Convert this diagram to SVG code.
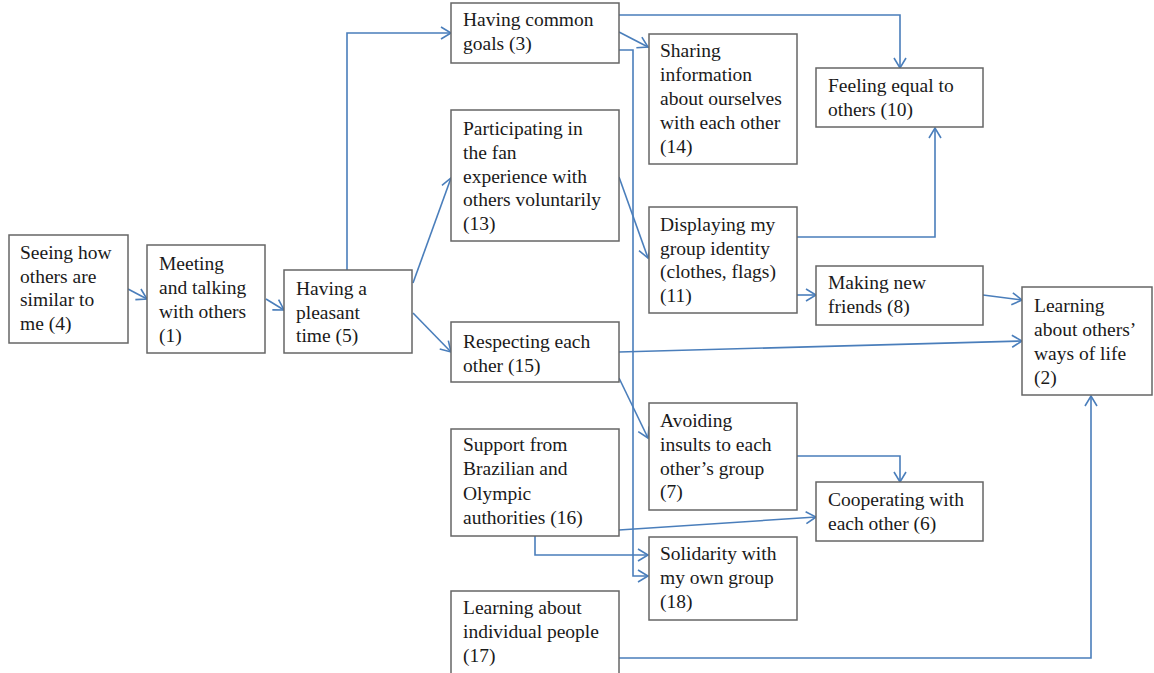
<svg xmlns="http://www.w3.org/2000/svg" width="1154" height="673" viewBox="0 0 1154 673">
  <style>
    .box rect { fill: #ffffff; stroke: #666666; stroke-width: 1.5; }
    .box text { font-family: "Liberation Serif", "Times New Roman", serif; font-size: 19.5px; fill: #1a1a1a; }
    #connectors path { fill: none; stroke: #4a7ebb; stroke-width: 1.6; marker-end: url(#arrow); }
  </style>
  <defs>
    <marker id="arrow" markerUnits="userSpaceOnUse" markerWidth="14" markerHeight="14" refX="11" refY="6" orient="auto" overflow="visible">
      <path d="M1,0 L11,6 L1,12" fill="none" stroke="#4a7ebb" stroke-width="1.6"/>
    </marker>
  </defs>
  <rect width="1154" height="673" fill="#ffffff"/>

  <!-- connectors -->
  <g id="connectors">
    <path d="M128,289 L147,299"/>
    <path d="M266,299 L284,310"/>
    <path d="M347,270 L347,33 L451,33"/>
    <path d="M413,283 L451,178"/>
    <path d="M413,313 L451,352"/>
    <path d="M619,15 L900,15 L900,68"/>
    <path d="M619,32 L648,47"/>
    <path d="M619,50 L633,50 L633,576 L648,576"/>
    <path d="M619,177 L648,258"/>
    <path d="M797,237 L935,237 L935,128"/>
    <path d="M797,295 L816,295"/>
    <path d="M983,295 L1022,300"/>
    <path d="M619,352 L1022,341"/>
    <path d="M619,378 L648,438"/>
    <path d="M797,456 L900,456 L900,482"/>
    <path d="M619,530 L816,517"/>
    <path d="M535,536 L535,555 L648,555"/>
    <path d="M619,658 L1091,658 L1091,396"/>
  </g>

  <!-- nodes -->
  <g id="n4" class="box">
    <rect x="9" y="235" width="119" height="108"/>
    <text x="20" y="259">Seeing how</text>
    <text x="20" y="283">others are</text>
    <text x="20" y="306">similar  to</text>
    <text x="20" y="330">me (4)</text>
  </g>
  <g id="n1" class="box">
    <rect x="147" y="245" width="118" height="108"/>
    <text x="159" y="270">Meeting</text>
    <text x="159" y="294">and talking</text>
    <text x="159" y="318">with others</text>
    <text x="159" y="342">(1)</text>
  </g>
  <g id="n5" class="box">
    <rect x="284" y="270" width="128" height="83"/>
    <text x="296" y="295">Having a</text>
    <text x="296" y="319">pleasant</text>
    <text x="296" y="342">time (5)</text>
  </g>
  <g id="n3" class="box">
    <rect x="451" y="3" width="168" height="60"/>
    <text x="463" y="26">Having common</text>
    <text x="463" y="50">goals (3)</text>
  </g>
  <g id="n13" class="box">
    <rect x="451" y="110" width="168" height="131"/>
    <text x="463" y="135">Participating  in</text>
    <text x="463" y="159">the fan</text>
    <text x="463" y="183">experience with</text>
    <text x="463" y="206">others voluntarily</text>
    <text x="463" y="230">(13)</text>
  </g>
  <g id="n15" class="box">
    <rect x="451" y="322" width="168" height="60"/>
    <text x="463" y="348">Respecting each</text>
    <text x="463" y="372">other (15)</text>
  </g>
  <g id="n16" class="box">
    <rect x="451" y="429" width="168" height="107"/>
    <text x="463" y="451">Support from</text>
    <text x="463" y="475">Brazilian  and</text>
    <text x="463" y="500">Olympic</text>
    <text x="463" y="524">authorities (16)</text>
  </g>
  <g id="n17" class="box">
    <rect x="451" y="591" width="168" height="90"/>
    <text x="463" y="614">Learning about</text>
    <text x="463" y="638">individual  people</text>
    <text x="463" y="662">(17)</text>
  </g>
  <g id="n14" class="box">
    <rect x="649" y="34" width="148" height="130"/>
    <text x="660" y="57">Sharing</text>
    <text x="660" y="81">information</text>
    <text x="660" y="105">about ourselves</text>
    <text x="660" y="129">with each other</text>
    <text x="660" y="153">(14)</text>
  </g>
  <g id="n11" class="box">
    <rect x="649" y="207" width="148" height="106"/>
    <text x="660" y="231">Displaying my</text>
    <text x="660" y="255">group identity</text>
    <text x="660" y="278">(clothes, flags)</text>
    <text x="660" y="302">(11)</text>
  </g>
  <g id="n7" class="box">
    <rect x="649" y="403" width="148" height="107"/>
    <text x="660" y="427">Avoiding</text>
    <text x="660" y="451">insults to each</text>
    <text x="660" y="475">other’s group</text>
    <text x="660" y="498">(7)</text>
  </g>
  <g id="n18" class="box">
    <rect x="649" y="537" width="148" height="83"/>
    <text x="660" y="560">Solidarity  with</text>
    <text x="660" y="584">my own group</text>
    <text x="660" y="608">(18)</text>
  </g>
  <g id="n10" class="box">
    <rect x="816" y="68" width="167" height="59"/>
    <text x="828" y="92">Feeling  equal to</text>
    <text x="828" y="116">others (10)</text>
  </g>
  <g id="n8" class="box">
    <rect x="816" y="266" width="167" height="59"/>
    <text x="828" y="289">Making  new</text>
    <text x="828" y="313">friends (8)</text>
  </g>
  <g id="n6" class="box">
    <rect x="816" y="482" width="167" height="59"/>
    <text x="828" y="506">Cooperating with</text>
    <text x="828" y="530">each other (6)</text>
  </g>
  <g id="n2" class="box">
    <rect x="1022" y="287" width="130" height="108"/>
    <text x="1034" y="312">Learning</text>
    <text x="1034" y="336">about others’</text>
    <text x="1034" y="360">ways of life</text>
    <text x="1034" y="384">(2)</text>
  </g>
</svg>
